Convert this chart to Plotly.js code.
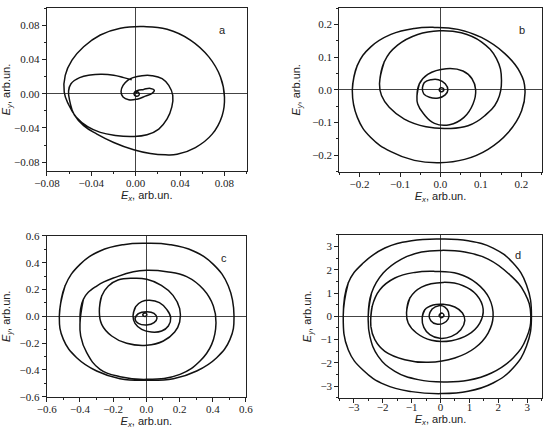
<!DOCTYPE html>
<html><head><meta charset="utf-8">
<script src="https://cdn.plot.ly/plotly-3.0.1.min.js"></script>
<style>html,body{margin:0;padding:0;background:#fff}#chart{width:550px;height:433px}</style>
</head><body><div id="chart"></div>
<script>
// Panel a: one continuous trajectory (Ex, Ey)
const aX = [0,0.0012,0.0030,0.0030,0.0012,-0.0009,-0.0015,-0.0003,0.0018,0.0072,0.0132,0.0168,0.0147,0.0087,0.0012,-0.0063,-0.0114,-0.0132,-0.0114,-0.0072,-0.0024,0.0057,0.0147,0.0238,0.0298,0.0334,0.0325,0.0283,0.0208,0.0102,-0.0033,-0.0183,-0.0319,-0.0433,-0.0535,-0.0605,-0.0644,-0.0635,-0.0574,-0.0469,-0.0319,-0.0138,0.0072,0.0283,0.0493,0.0659,0.0764,0.0800,0.0779,0.0689,0.0538,0.0373,0.0268,0.0132,-0.0018,-0.0198,-0.0349,-0.0469,-0.0553,-0.0592,-0.0605,-0.0583,-0.0505,-0.0409,-0.0304,-0.0198,-0.0108,-0.0036];
const aY = [0,0.0020,0.0008,-0.0016,-0.0028,-0.0020,0.0004,0.0028,0.0039,0.0051,0.0063,0.0039,0.0004,-0.0028,-0.0063,-0.0071,-0.0039,0.0028,0.0098,0.0157,0.0189,0.0212,0.0212,0.0177,0.0098,-0.0020,-0.0157,-0.0295,-0.0413,-0.0480,-0.0499,-0.0487,-0.0452,-0.0385,-0.0275,-0.0126,0.0020,0.0216,0.0393,0.0550,0.0688,0.0767,0.0786,0.0755,0.0629,0.0432,0.0197,-0.0039,-0.0256,-0.0472,-0.0629,-0.0708,-0.0715,-0.0700,-0.0656,-0.0570,-0.0472,-0.0373,-0.0248,-0.0098,0.0031,0.0118,0.0189,0.0220,0.0228,0.0216,0.0189,0.0165];

// Panel b: successive turns
const b1X = [-0.2178,-0.2054,-0.1722,-0.1225,-0.0646,-0.0149,0.0431,0.1010,0.1590,0.1962,0.2087,0.2004,0.1673,0.1176,0.0596,-0.0025,-0.0646,-0.1225,-0.1722,-0.2054];
const b1Y = [0,0.0749,0.1313,0.1693,0.1877,0.1908,0.1847,0.1601,0.1108,0.0544,0,-0.0636,-0.1303,-0.1816,-0.2124,-0.2226,-0.2155,-0.1888,-0.1457,-0.0841];
const b2X = [-0.1507,-0.1391,-0.1060,-0.0563,-0.0025,0.0513,0.1010,0.1383,0.1507,0.1408,0.1093,0.0679,0.0182,-0.0356,-0.0894,-0.1267,-0.1457];
const b2Y = [0.0185,0.0852,0.1365,0.1693,0.1806,0.1744,0.1467,0.0954,0.0287,-0.0328,-0.0790,-0.1098,-0.1180,-0.1129,-0.0893,-0.0534,-0.0174];
const b3X = [-0.0580,-0.0522,-0.0315,0.0141,0.0555,0.0778,0.0869,0.0803,0.0580,0.0224,-0.0149,-0.0414,-0.0563];
const b3Y = [-0.0174,0.0185,0.0472,0.0646,0.0575,0.0339,0,-0.0431,-0.0841,-0.1067,-0.1026,-0.0739,-0.0431];
const b4X = [-0.0447,-0.0397,-0.0232,-0.0050,0.0116,0.0182,0.0116,-0.0050,-0.0273,-0.0414];
const b4Y = [0.0062,0.0226,0.0308,0.0308,0.0185,0,-0.0154,-0.0246,-0.0226,-0.0123];
const b5X = [-0.0033,0,0.0058,0.0083,0.0050,-0.0008];
const b5Y = [0,0.0062,0.0051,0,-0.0051,-0.0051];

// Panel c
const c1X = [-0.524,-0.4897,-0.3994,-0.2790,-0.1385,0.0020,0.1425,0.2830,0.4034,0.4937,0.5278,0.5037,0.4235,0.3031,0.1626,0.0020,-0.1585,-0.2990,-0.4194,-0.4997];
const c1Y = [0.0025,0.2265,0.3883,0.4879,0.5351,0.5451,0.5351,0.4879,0.3883,0.2265,0.0025,-0.1717,-0.3087,-0.4082,-0.4655,-0.4779,-0.4655,-0.4082,-0.3087,-0.1717];
const c2X = [-0.3994,-0.3793,-0.2990,-0.1706,-0.0783,0.0020,0.1224,0.2428,0.3432,0.4034,0.4194,0.3933,0.3231,0.2027,0.0020,-0.1585,-0.2790,-0.3592,-0.3953];
const c2Y = [-0.0473,0.1269,0.2265,0.2987,0.3335,0.3435,0.3335,0.2962,0.2016,0.0772,-0.0473,-0.2091,-0.3335,-0.4331,-0.4704,-0.4505,-0.3958,-0.2713,-0.1469];
const c3X = [-0.2830,-0.2689,-0.2288,-0.1706,-0.0783,0.0020,0.0903,0.1605,0.2007,0.2007,0.1706,0.1023,0.0020,-0.1184,-0.2087,-0.2689];
const c3Y = [0.0398,0.1518,0.2265,0.2713,0.2838,0.2763,0.2315,0.1568,0.0573,-0.0423,-0.1170,-0.1842,-0.2165,-0.2016,-0.1469,-0.0597];
const c4X = [-0.0803,-0.0642,-0.0281,0.0201,0.0783,0.1224,0.1465,0.1325,0.0923,0.0301,-0.0281,-0.0682];
const c4Y = [0.0025,0.0722,0.1095,0.1195,0.1021,0.0523,-0.0100,-0.0722,-0.1095,-0.1170,-0.0971,-0.0523];
const c5X = [-0.0682,-0.0482,0.0020,0.0462,0.0642,0.0462,0.0020,-0.0482];
const c5Y = [-0.0174,0.0199,0.0348,0.0224,-0.0124,-0.0473,-0.0647,-0.0523];
const c6X = [-0.022,-0.010,0.003,-0.008];
const c6Y = [0.012,0.027,0.014,-0.002];

// Panel d
const d1X = [-3.364,-3.191,-2.673,-1.924,-1.002,0,0.956,1.820,2.511,2.972,3.145,2.972,2.511,1.820,0.956,0,-1.002,-1.924,-2.673,-3.191];
const d1Y = [0,1.433,2.293,2.938,3.253,3.325,3.253,2.938,2.293,1.361,0,-1.290,-2.221,-2.866,-3.224,-3.324,-3.238,-2.938,-2.321,-1.433];
const d2X = [-2.500,-2.385,-1.982,-1.348,-0.657,0.035,0.841,1.647,2.396,2.915,3.122,2.972,2.511,1.763,0.956,0.150,-0.772,-1.578,-2.154,-2.442];
const d2Y = [0,1.003,1.862,2.465,2.766,2.838,2.766,2.465,1.791,1.003,0.072,-0.931,-1.791,-2.436,-2.751,-2.823,-2.722,-2.364,-1.720,-0.860];
const d3X = [-2.408,-2.362,-2.097,-1.578,-0.887,-0.196,0.611,1.244,1.682,1.820,1.647,1.187,0.495,-0.426,-1.233,-1.924,-2.270];
const d3Y = [-0.430,0.430,1.146,1.648,1.891,1.934,1.834,1.433,0.788,0,-0.717,-1.361,-1.791,-1.978,-1.863,-1.505,-1.003];
const d4X = [-1.175,-1.060,-0.657,0.092,0.783,1.244,1.475,1.359,0.956,0.380,-0.311,-0.829,-1.118];
const d4Y = [0.143,0.788,1.261,1.461,1.318,0.931,0.315,-0.287,-0.788,-1.046,-1.032,-0.717,-0.287];
const d5X = [-0.634,-0.541,-0.253,0.092,0.495,0.760,0.841,0.703,0.380,-0.023,-0.369,-0.576];
const d5Y = [-0.072,0.287,0.487,0.516,0.401,0.143,-0.172,-0.573,-0.860,-0.946,-0.788,-0.473];
const d6X = [-0.392,-0.288,-0.058,0.150,0.276,0.265,0.092,-0.138,-0.334];
const d6Y = [0.057,0.315,0.459,0.401,0.186,-0.115,-0.301,-0.330,-0.186];
const d7X = [-0.05,0.03,0.12,0.04];
const d7Y = [0.04,0.14,0.05,-0.06];

const panelLabels = ['a','b','c','d'];
const xTitle = '<i>E<sub>x</sub></i>, arb.un.';
const yTitle = '<i>E<sub>y</sub></i>, arb.un.';

function joinLoops(loops){
  const X=[],Y=[];
  loops.forEach(([xs,ys],i)=>{
    xs.forEach((v,k)=>{X.push(v);Y.push(ys[k]);});
    X.push(xs[0],xs[1]); Y.push(ys[0],ys[1]);
    if(i<loops.length-1){X.push(null);Y.push(null);}
  });
  return [X,Y];
}
const [bX,bY]=joinLoops([[b1X,b1Y],[b2X,b2Y],[b3X,b3Y],[b4X,b4Y],[b5X,b5Y]]);
const [cX,cY]=joinLoops([[c1X,c1Y],[c2X,c2Y],[c3X,c3Y],[c4X,c4Y],[c5X,c5Y],[c6X,c6Y]]);
const [dX,dY]=joinLoops([[d1X,d1Y],[d2X,d2Y],[d3X,d3Y],[d4X,d4Y],[d5X,d5Y],[d6X,d6Y],[d7X,d7Y]]);

const line={color:'#111',width:1.5,shape:'spline',smoothing:1.25,simplify:false};
const traces=[
  {x:aX,y:aY,xaxis:'x',yaxis:'y',mode:'lines',line:line,hoverinfo:'skip'},
  {x:bX,y:bY,xaxis:'x2',yaxis:'y2',mode:'lines',line:line,hoverinfo:'skip'},
  {x:cX,y:cY,xaxis:'x3',yaxis:'y3',mode:'lines',line:line,hoverinfo:'skip'},
  {x:dX,y:dY,xaxis:'x4',yaxis:'y4',mode:'lines',line:line,hoverinfo:'skip'}
];

const tickFont={family:'Liberation Serif',size:11,color:'#222'};
const titleFont={family:'Liberation Sans',size:11,color:'#222'};
function ax(domain,range,dtick,minorDtick,fmt,anchor,title,standoff,labelShift){
  return {domain:domain,range:range,anchor:anchor,dtick:dtick,tick0:0,tickformat:fmt,
    ticks:'outside',ticklen:4,tickwidth:1,tickcolor:'#222',ticklabelstandoff:labelShift||0,
    minor:{dtick:minorDtick,tick0:0,ticks:'outside',ticklen:2,tickwidth:1,tickcolor:'#222',showgrid:false},
    showline:true,mirror:true,linecolor:'#222',linewidth:1,showgrid:false,
    zeroline:true,zerolinecolor:'#444',zerolinewidth:1,
    tickfont:tickFont,title:{text:title,font:titleFont,standoff:standoff},automargin:false,fixedrange:true};
}
const layout={
  width:550,height:433,margin:{l:0,r:0,t:0,b:0},paper_bgcolor:'#fff',plot_bgcolor:'#fff',showlegend:false,
  xaxis: ax([0.0849,0.4485],[-0.0802,0.1],0.04,0.02,'.2f','y',xTitle,3,-2),
  yaxis: ax([0.6058,0.9808],[-0.09,0.1],0.04,0.02,'.2f','x',yTitle,3,0),
  xaxis2:ax([0.6169,0.9849],[-0.25,0.25],0.1,0.05,'.1f','y2',xTitle,3,-2),
  yaxis2:ax([0.6035,0.9815],[-0.25,0.25],0.1,0.05,'.1f','x2',yTitle,9,0),
  xaxis3:ax([0.0849,0.4473],[-0.6001,0.6001],0.2,0.1,'.1f','y3',xTitle,0,-2),
  yaxis3:ax([0.0838,0.4550],[-0.6001,0.6001],0.2,0.1,'.1f','x3',yTitle,10,0),
  xaxis4:ax([0.6169,0.9849],[-3.5,3.5],1,0.5,'d','y4',xTitle,0,-5),
  yaxis4:ax([0.0815,0.4573],[-3.5,3.5],1,0.5,'d','x4',yTitle,6,0),
  annotations:[
    {text:panelLabels[0],xref:'x domain',yref:'y domain',x:0.906,y:0.916,showarrow:false,font:{family:'Liberation Sans',size:11,color:'#222'}},
    {text:panelLabels[1],xref:'x2 domain',yref:'y2 domain',x:0.926,y:0.916,showarrow:false,font:{family:'Liberation Sans',size:11,color:'#222'}},
    {text:panelLabels[2],xref:'x3 domain',yref:'y3 domain',x:0.916,y:0.911,showarrow:false,font:{family:'Liberation Sans',size:11,color:'#222'}},
    {text:panelLabels[3],xref:'x4 domain',yref:'y4 domain',x:0.909,y:0.926,showarrow:false,font:{family:'Liberation Sans',size:11,color:'#222'}}
  ]
};
Plotly.newPlot('chart',traces,layout,{displayModeBar:false,staticPlot:true});
</script>
</body></html>
